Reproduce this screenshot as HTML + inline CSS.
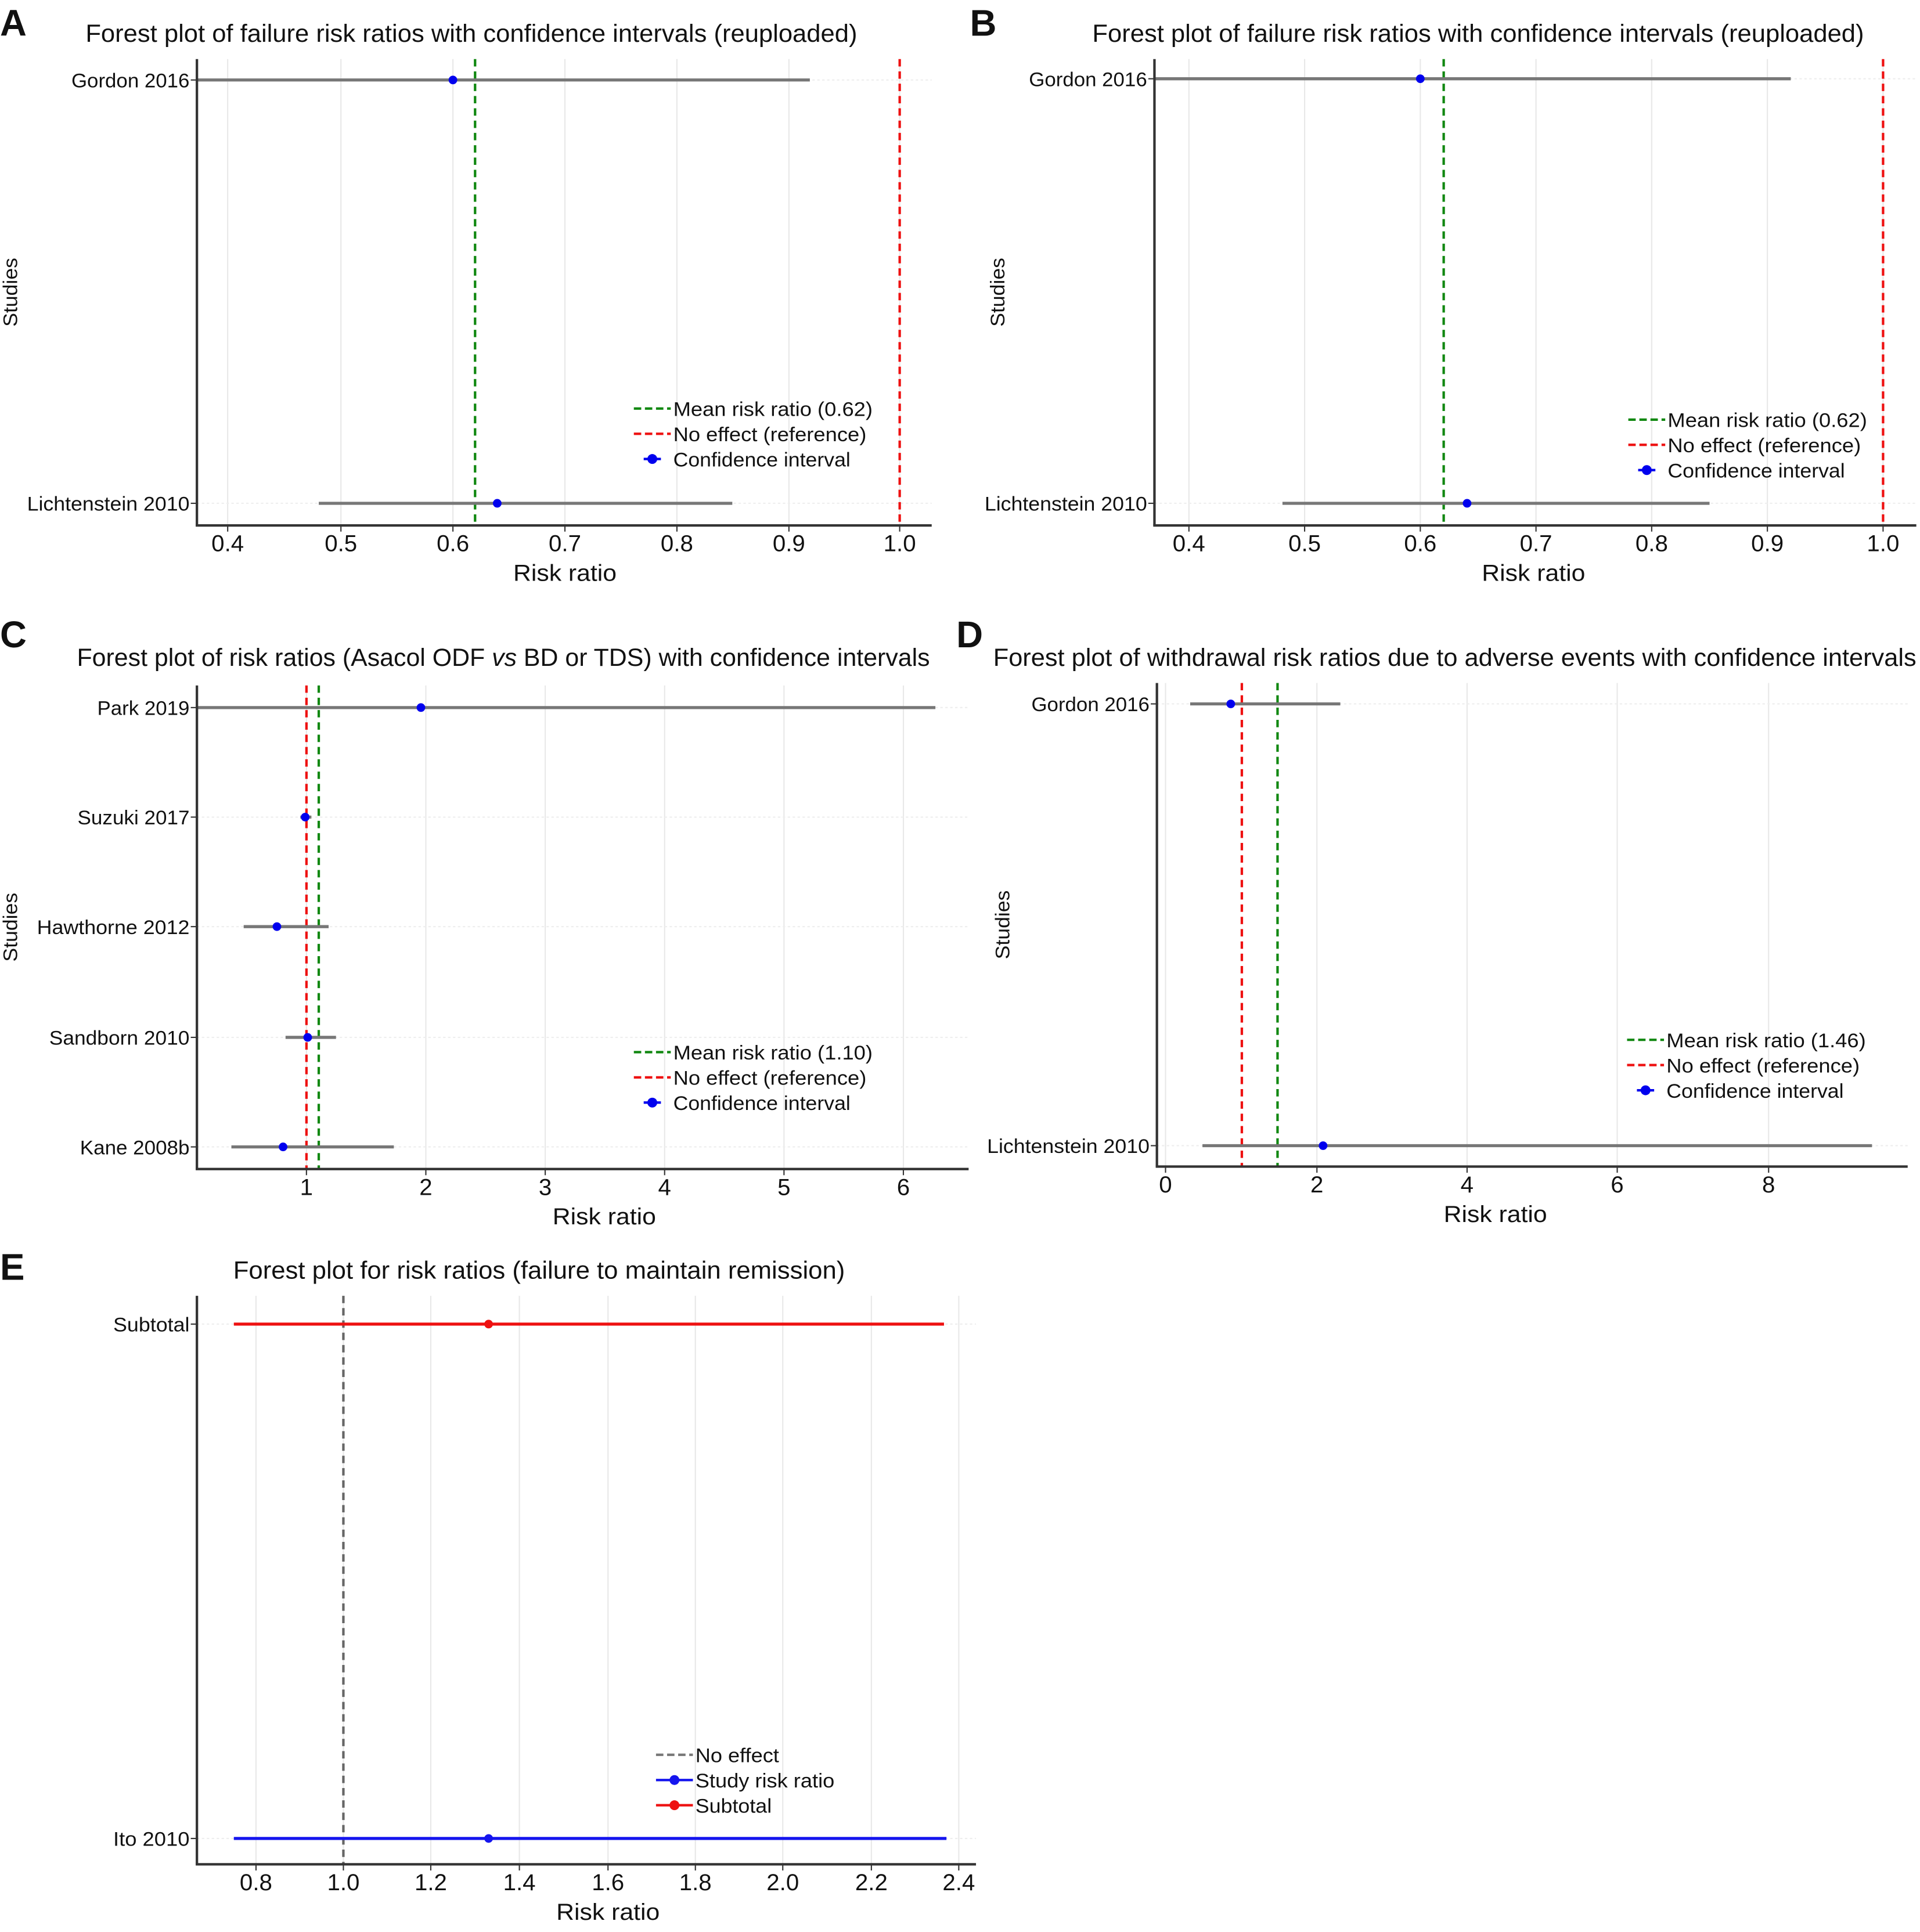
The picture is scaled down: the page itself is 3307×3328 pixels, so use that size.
<!DOCTYPE html>
<html><head><meta charset="utf-8"><style>
html,body{margin:0;padding:0;background:#fff}
svg{display:block}
text{font-family:"Liberation Sans",sans-serif;fill:#111}
</style></head><body>
<svg id="s" width="3307" height="3328" viewBox="0 0 1560 1570" preserveAspectRatio="none" xmlns="http://www.w3.org/2000/svg"></svg>
<script>
const S=document.getElementById('s');const NS='http://www.w3.org/2000/svg';
function el(t,a,txt,par){const e=document.createElementNS(NS,t);for(const k in a)e.setAttribute(k,a[k]);if(txt!==undefined)e.textContent=txt;(par||S).appendChild(e);return e;}
function line(x1,y1,x2,y2,c,w,d){const a={x1,y1,x2,y2,stroke:c,'stroke-width':w};if(d)a['stroke-dasharray']=d;return el('line',a);}
function txt(x,y,s,size,anchor,len,extra){const a={x,y,'font-size':size,'text-anchor':anchor||'start'};if(len){a.textLength=len;a.lengthAdjust='spacingAndGlyphs';}Object.assign(a,extra||{});
  if(Array.isArray(s)){const t=el('text',a);s.forEach(p=>{el('tspan',p[1]?{'font-style':'italic'}:{},p[0],t);});return t;}
  return el('text',a,s);}
function panel(p){
  const {L,R,T,B}=p;
  p.ticks.forEach(t=>line(t[0],T,t[0],B,'#e8e8e8',1));
  p.rows.forEach(r=>line(L,r.y,R,r.y,'#eeeeee',1,'2,2'));
  txt(p.tx,p.ty,p.title,20,'middle',p.tlen);
  p.vlines.forEach(v=>line(v.x,T,v.x,B,v.c,2,'6,4'));
  p.rows.forEach(r=>{line(r.a,r.y,r.b,r.y,r.c||'#777',2.5);line(L-5,r.y,L,r.y,'#333',1);
    el('circle',{cx:r.p,cy:r.y,r:3.5,fill:r.pc||'#0000ee'});
    txt(L-6,r.y+6,r.name,16,'end',r.nl);});
  line(L,T,L,B,'#333',2);line(L-1,B,R,B,'#333',2);
  p.ticks.forEach(t=>{line(t[0],B,t[0],B+5,'#333',1);txt(t[0],B+21,t[1],19,'middle');});
  txt(p.xl,B+45,'Risk ratio',19,'middle',84);
  const sy=(T+B)/2;txt(p.sx,sy,'Studies',16,'middle',56,{transform:`rotate(-90 ${p.sx} ${sy})`});
  p.leg.forEach((g,i)=>{const y=p.ly+i*20.5;
    if(g.d)line(p.lx,y-5,p.lx+30,y-5,g.c,2,'6,3');else{line(p.lx+(g.s?0:8),y-5,p.lx+(g.s?30:22),y-5,g.c,2);el('circle',{cx:p.lx+15,cy:y-5,r:4,fill:g.c});}
    txt(p.lx+32,y+1,g.t,16,'start',g.l);});
  txt(p.lbx,p.lby,p.letter,30,'start',null,{'font-weight':'bold'});
}
const leg3=(m)=>[{d:1,c:'#118811',t:`Mean risk ratio (${m})`,l:162},{d:1,c:'#ee1111',t:'No effect (reference)',l:157},{c:'#0000ee',t:'Confidence interval',l:144}];
panel({L:160,R:757,T:48,B:427,title:'Forest plot of failure risk ratios with confidence intervals (reuploaded)',tx:383,ty:34,tlen:627,
 ticks:[[185,'0.4'],[277,'0.5'],[368,'0.6'],[459,'0.7'],[550,'0.8'],[641,'0.9'],[731,'1.0']],
 rows:[{y:65,a:160,b:658,p:368,name:'Gordon 2016',nl:96},{y:409,a:259,b:595,p:404,name:'Lichtenstein 2010',nl:132}],
 vlines:[{x:386,c:'#118811'},{x:731,c:'#ee1111'}],xl:459,sx:14,leg:leg3('0.62'),lx:515,ly:337,letter:'A',lbx:0,lby:29});
panel({L:938,R:1557,T:48,B:427,title:'Forest plot of failure risk ratios with confidence intervals (reuploaded)',tx:1201,ty:34,tlen:627,
 ticks:[[966,'0.4'],[1060,'0.5'],[1154,'0.6'],[1248,'0.7'],[1342,'0.8'],[1436,'0.9'],[1530,'1.0']],
 rows:[{y:64,a:938,b:1455,p:1154,name:'Gordon 2016',nl:96},{y:409,a:1042,b:1389,p:1192,name:'Lichtenstein 2010',nl:132}],
 vlines:[{x:1173,c:'#118811'},{x:1530,c:'#ee1111'}],xl:1246,sx:816,leg:leg3('0.62'),lx:1323,ly:346,letter:'B',lbx:788,lby:29});
panel({L:160,R:787,T:557,B:950,title:[['Forest plot of risk ratios (Asacol ODF '],['vs',1],[' BD or TDS) with confidence intervals']],tx:409,ty:541,tlen:693,
 ticks:[[249,'1'],[346,'2'],[443,'3'],[540,'4'],[637,'5'],[734,'6']],
 rows:[{y:575,a:160,b:760,p:342,name:'Park 2019',nl:75},{y:664,a:244,b:253,p:248,name:'Suzuki 2017',nl:91},{y:753,a:198,b:267,p:225,name:'Hawthorne 2012',nl:124},{y:843,a:232,b:273,p:250,name:'Sandborn 2010',nl:114},{y:932,a:188,b:320,p:230,name:'Kane 2008b',nl:89}],
 vlines:[{x:249,c:'#ee1111'},{x:259,c:'#118811'}],xl:491,sx:14,leg:leg3('1.10'),lx:515,ly:860,letter:'C',lbx:0,lby:526});
panel({L:940,R:1550,T:555,B:948,title:'Forest plot of withdrawal risk ratios due to adverse events with confidence intervals',tx:1182,ty:541,tlen:750,
 ticks:[[947,'0'],[1070,'2'],[1192,'4'],[1314,'6'],[1437,'8']],
 rows:[{y:572,a:967,b:1089,p:1000,name:'Gordon 2016',nl:96},{y:931,a:977,b:1521,p:1075,name:'Lichtenstein 2010',nl:132}],
 vlines:[{x:1009,c:'#ee1111'},{x:1038,c:'#118811'}],xl:1215,sx:820,leg:leg3('1.46'),lx:1322,ly:850,letter:'D',lbx:777,lby:526});
panel({L:160,R:793,T:1053,B:1515,title:'Forest plot for risk ratios (failure to maintain remission)',tx:438,ty:1039,tlen:497,
 ticks:[[208,'0.8'],[279,'1.0'],[350,'1.2'],[422,'1.4'],[494,'1.6'],[565,'1.8'],[636,'2.0'],[708,'2.2'],[779,'2.4']],
 rows:[{y:1076,a:190,b:767,p:397,name:'Subtotal',nl:62,c:'#ee1111',pc:'#ee1111'},{y:1494,a:190,b:769,p:397,name:'Ito 2010',nl:62,c:'#1515ee',pc:'#1515ee'}],
 vlines:[{x:279,c:'#666'}],xl:494,sx:-100,
 leg:[{d:1,c:'#777',t:'No effect',l:68},{s:1,c:'#1515ee',t:'Study risk ratio',l:113},{s:1,c:'#ee1111',t:'Subtotal',l:62}],lx:533,ly:1431,letter:'E',lbx:0,lby:1040});
</script>
</body></html>
